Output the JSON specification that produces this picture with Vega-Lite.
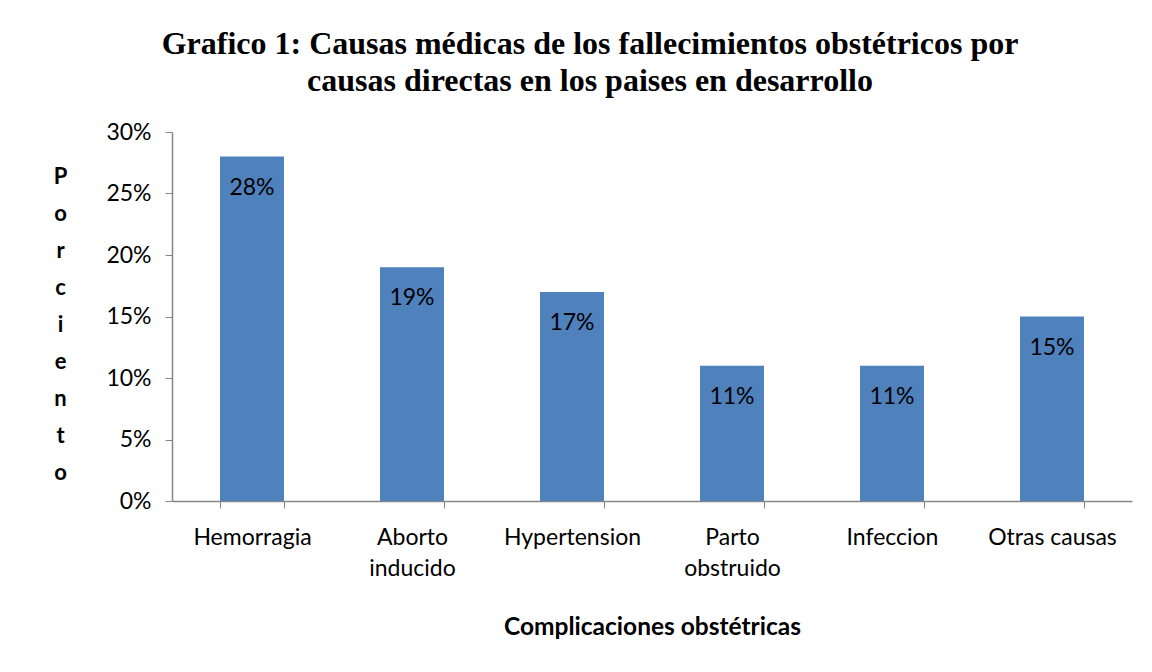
{
  "$schema": "https://vega.github.io/schema/vega-lite/v6.json",
  "width": 960,
  "height": 369,
  "autosize": {"type": "none"},
  "padding": {"left": 172, "top": 132, "right": 20, "bottom": 171},
  "background": "white",
  "title": {
    "text": ["Grafico 1: Causas médicas de los fallecimientos obstétricos por", "causas directas en los paises en desarrollo"],
    "font": "Liberation Serif",
    "fontSize": 32,
    "fontWeight": "bold",
    "color": "black",
    "anchor": "middle",
    "frame": "group",
    "dx": -62,
    "lineHeight": 37,
    "offset": 23
  },
  "data": {
    "values": [
      {"causa": "Hemorragia", "pct": 0.28},
      {"causa": "Aborto|inducido", "pct": 0.19},
      {"causa": "Hypertension", "pct": 0.17},
      {"causa": "Parto|obstruido", "pct": 0.11},
      {"causa": "Infeccion", "pct": 0.11},
      {"causa": "Otras causas", "pct": 0.15}
    ]
  },
  "encoding": {
    "x": {
      "field": "causa",
      "type": "nominal",
      "sort": null,
      "scale": {"paddingInner": 0.6, "paddingOuter": 0.3},
      "axis": {
        "title": "Complicaciones obstétricas",
        "titleFont": "Lato",
        "titleFontSize": 24.5,
        "titleFontWeight": "bold",
        "titleColor": "black",
        "titleY": 126,
        "titleBaseline": "middle",
        "labelAngle": 0,
        "labelExpr": "split(datum.label, '|')",
        "labelFont": "Lato",
        "labelFontSize": 23,
        "labelColor": "black",
        "labelLineHeight": 31,
        "labelPadding": 18,
        "labelBaseline": "top",
        "tickBand": "extent",
        "tickSize": 7,
        "tickColor": "#868686",
        "domainColor": "#868686",
        "domainWidth": 1.5
      }
    },
    "y": {
      "field": "pct",
      "type": "quantitative",
      "scale": {"domain": [0, 0.3], "nice": false},
      "axis": {
        "format": ".0%",
        "values": [0, 0.05, 0.1, 0.15, 0.2, 0.25, 0.3],
        "grid": false,
        "title": ["P", "o", "r", "c", "i", "e", "n", "t", "o"],
        "titleFont": "Lato",
        "titleFontSize": 22,
        "titleFontWeight": "bold",
        "titleColor": "black",
        "titleAngle": 0,
        "titleAlign": "center",
        "titleBaseline": "middle",
        "titleLineHeight": 37,
        "titleX": -112,
        "titleY": 44,
        "labelFont": "Lato",
        "labelFontSize": 23,
        "labelColor": "black",
        "labelPadding": 14,
        "tickSize": 7,
        "tickColor": "#868686",
        "domainColor": "#868686",
        "domainWidth": 1.5
      }
    }
  },
  "layer": [
    {"mark": {"type": "bar", "color": "#4F81BD"}},
    {
      "mark": {"type": "text", "baseline": "middle", "dy": 31, "font": "Lato", "fontSize": 23, "color": "black"},
      "encoding": {"text": {"field": "pct", "type": "quantitative", "format": ".0%"}}
    }
  ],
  "config": {"view": {"stroke": null}}
}
